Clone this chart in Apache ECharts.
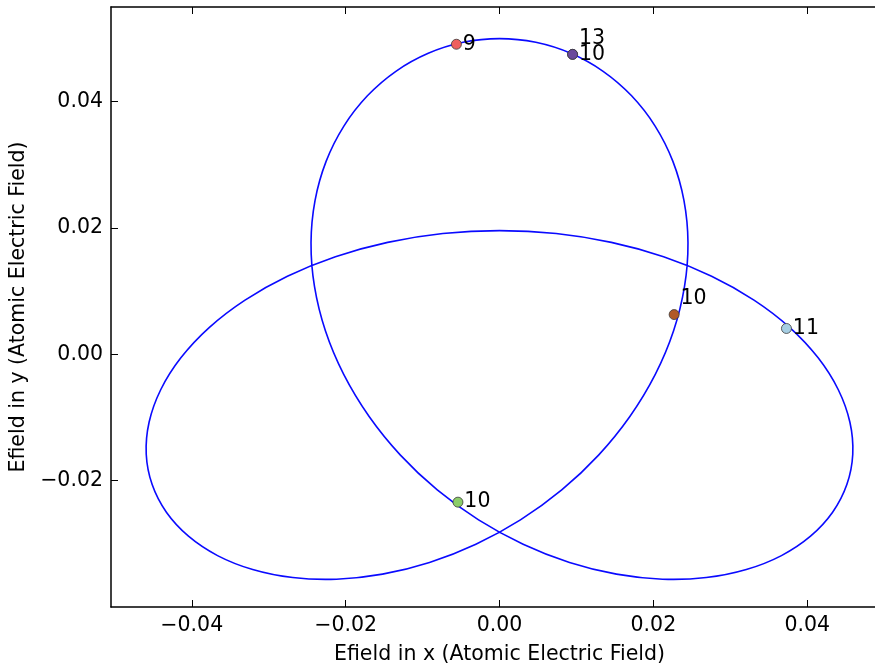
<!DOCTYPE html>
<html>
<head>
<meta charset="utf-8">
<script src="https://cdn.jsdelivr.net/npm/echarts@6/dist/echarts.min.js"></script>
<style>
  html, body { margin: 0; padding: 0; background: #ffffff; overflow: hidden; }
  /* the plot frame runs past the right edge of the window, so the canvas is wider than the view */
  #chart { width: 900px; height: 671px; }
</style>
</head>
<body>
<div id="chart"></div>
<script>
// Closed trajectory of the field vector (x and y components, atomic units), in drawing order
const fieldX = [
  0.00000, -0.00472, -0.00926, -0.01347, -0.01717, -0.02023, -0.02254, -0.02398, -0.02450, -0.02405,
  -0.02263, -0.02025, -0.01697, -0.01288, -0.00809, -0.00272, 0.00307, 0.00910, 0.01520, 0.02119,
  0.02687, 0.03208, 0.03665, 0.04043, 0.04330, 0.04515, 0.04592, 0.04555, 0.04404, 0.04142,
  0.03774, 0.03308, 0.02757, 0.02133, 0.01454, 0.00737, 0.00000, -0.00737, -0.01454, -0.02133,
  -0.02757, -0.03308, -0.03774, -0.04142, -0.04404, -0.04555, -0.04592, -0.04515, -0.04330, -0.04043,
  -0.03665, -0.03208, -0.02687, -0.02119, -0.01520, -0.00910, -0.00307, 0.00272, 0.00809, 0.01288,
  0.01697, 0.02025, 0.02263, 0.02405, 0.02450, 0.02398, 0.02254, 0.02023, 0.01717, 0.01347,
  0.00926, 0.00472
];
const fieldY = [
  0.05000, 0.04941, 0.04767, 0.04482, 0.04094, 0.03615, 0.03056, 0.02435, 0.01769, 0.01075,
  0.00373, -0.00318, -0.00980, -0.01595, -0.02146, -0.02620, -0.03006, -0.03295, -0.03480, -0.03560,
  -0.03534, -0.03407, -0.03186, -0.02879, -0.02500, -0.02062, -0.01581, -0.01075, -0.00560, -0.00055,
  0.00424, 0.00859, 0.01237, 0.01546, 0.01773, 0.01913, 0.01960, 0.01913, 0.01773, 0.01546,
  0.01237, 0.00859, 0.00424, -0.00055, -0.00560, -0.01075, -0.01581, -0.02062, -0.02500, -0.02879,
  -0.03186, -0.03407, -0.03534, -0.03560, -0.03480, -0.03295, -0.03006, -0.02620, -0.02146, -0.01595,
  -0.00980, -0.00318, 0.00373, 0.01075, 0.01769, 0.02435, 0.03056, 0.03615, 0.04094, 0.04482,
  0.04767, 0.04941
];

// Marked instants on the trajectory and their annotations
const markerX = [0.0095, -0.0056, 0.0095, 0.0227, 0.0373, -0.0054];
const markerY = [0.0475, 0.0491, 0.0475, 0.0063, 0.0041, -0.0234];
const markerText = ['13', '9', '10', '10', '11', '10'];

// Axis tick positions
const xTicks = [-0.04, -0.02, 0.00, 0.02, 0.04];
const yTicks = [-0.02, 0.00, 0.02, 0.04];

// Marker styling (kept apart from the values)
const markerColors = ['#6a4a9c', '#ee5f5e', '#6a4a9c', '#b15928', '#a6cee3', '#8ccd6a'];
const labelLift = [-16, 0, 0, -16, 0, 0];

const FONT = 'DejaVu Sans';
const FONT_SIZE = 20.5;
const tickFmt = v => (v < 0 ? '\u2212' : '') + Math.abs(v).toFixed(2);

const chart = echarts.init(document.getElementById('chart'), null, { renderer: 'canvas' });

const axisLine = { show: true, onZero: false, lineStyle: { color: '#000000', width: 1.5 } };
const tickStyle = { color: '#000000', width: 1 };

// The trajectory is a closed loop: draw it as one smooth closed outline through every sample
function renderLoop(params, api) {
  if (params.dataIndex !== 0) return null;
  const pts = fieldX.map((x, i) => api.coord([x, fieldY[i]]));
  return {
    type: 'polygon',
    shape: { points: pts, smooth: 0.33 },
    style: { fill: 'none', stroke: '#0a0aff', lineWidth: 1.6 },
    silent: true
  };
}

const option = {
  animation: false,
  backgroundColor: '#ffffff',
  grid: { left: 111, right: 12, top: 7, bottom: 64, containLabel: false },
  xAxis: [
    {
      type: 'value', position: 'bottom', min: -0.0505, max: 0.0505,
      splitLine: { show: false },
      axisLine: axisLine,
      axisTick: { show: true, inside: true, length: 7, lineStyle: tickStyle, customValues: xTicks },
      axisLabel: { show: true, customValues: xTicks, formatter: tickFmt, margin: 8,
                   color: '#000000', fontSize: FONT_SIZE, fontFamily: FONT },
      name: 'Efield in x (Atomic Electric Field)', nameLocation: 'middle', nameGap: 37,
      nameTextStyle: { color: '#000000', fontSize: FONT_SIZE, fontFamily: FONT }
    },
    {
      type: 'value', position: 'top', min: -0.0505, max: 0.0505,
      splitLine: { show: false },
      axisLine: axisLine,
      axisTick: { show: true, inside: true, length: 7, lineStyle: tickStyle, customValues: xTicks },
      axisLabel: { show: false }
    }
  ],
  yAxis: [
    {
      type: 'value', position: 'left', min: -0.04, max: 0.055,
      splitLine: { show: false },
      axisLine: axisLine,
      axisTick: { show: true, inside: true, length: 7, lineStyle: tickStyle, customValues: yTicks },
      axisLabel: { show: true, customValues: yTicks, formatter: tickFmt, margin: 8,
                   color: '#000000', fontSize: FONT_SIZE, fontFamily: FONT },
      name: 'Efield in y (Atomic Electric Field)', nameLocation: 'middle', nameGap: 80,
      nameTextStyle: { color: '#000000', fontSize: FONT_SIZE, fontFamily: FONT }
    },
    {
      type: 'value', position: 'right', min: -0.04, max: 0.055,
      splitLine: { show: false },
      axisLine: axisLine,
      axisTick: { show: true, inside: true, length: 7, lineStyle: tickStyle, customValues: yTicks },
      axisLabel: { show: false }
    }
  ],
  series: [
    {
      type: 'custom',
      xAxisIndex: 0, yAxisIndex: 0,
      data: fieldX.map((x, i) => [x, fieldY[i]]),
      renderItem: renderLoop,
      silent: true,
      z: 2
    },
    {
      type: 'scatter',
      xAxisIndex: 0, yAxisIndex: 0,
      data: markerX.map((x, i) => ({
        value: [x, markerY[i]],
        itemStyle: { color: markerColors[i] },
        label: { offset: [0, labelLift[i]] }
      })),
      symbol: 'circle',
      symbolSize: 10,
      itemStyle: { borderColor: '#3a3a3a', borderWidth: 0.8, opacity: 1 },
      label: {
        show: true, position: 'right', distance: 1,
        formatter: p => markerText[p.dataIndex],
        color: '#000000', fontSize: FONT_SIZE, fontFamily: FONT
      },
      z: 3
    }
  ]
};

chart.setOption(option);
</script>
</body>
</html>
